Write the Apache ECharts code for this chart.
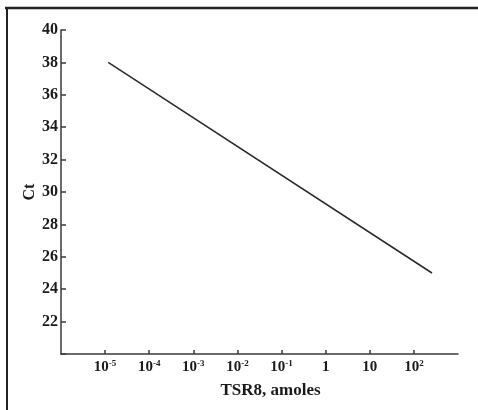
<!DOCTYPE html>
<html>
<head>
<meta charset="utf-8">
<script src="https://cdn.jsdelivr.net/npm/echarts@6/dist/echarts.min.js"></script>
<style>html,body{margin:0;padding:0;background:#fff;}#c{width:478px;height:410px;}</style>
</head>
<body>
<div id="c"></div>
<script>
// log10 of TSR8 amount (amoles)
const xLog = [-4.93, 2.41];
const ctValues = [38, 25];
const xTickExps = [-5, -4, -3, -2, -1, 0, 1, 2];
const xTickBase = ['10', '10', '10', '10', '10', '1', '10', '10'];
const xTickSup = ['-5', '-4', '-3', '-2', '-1', '', '', '2'];
const yTicks = [22, 24, 26, 28, 30, 32, 34, 36, 38, 40];

const chart = echarts.init(document.getElementById('c'));
const serif = '"Liberation Serif", "Times New Roman", serif';
const axisColor = '#3a3a3a';

chart.setOption({
  animation: false,
  backgroundColor: '#fff',
  grid: { left: 61, right: 20, top: 30, bottom: 56 },
  graphic: [
    { type: 'line', shape: { x1: 5, y1: 8, x2: 478, y2: 8 }, style: { stroke: '#222', lineWidth: 2.5 } },
    { type: 'line', shape: { x1: 7, y1: 7, x2: 7, y2: 410 }, style: { stroke: '#222', lineWidth: 2 } }
  ],
  xAxis: {
    type: 'value', min: -6, max: 3,
    name: 'TSR8, amoles', nameLocation: 'middle', nameGap: 28,
    nameTextStyle: { fontFamily: serif, fontWeight: 'bold', fontSize: 17, color: '#1a1a1a', padding: [0, 0, 0, 22] },
    axisLine: { onZero: false, lineStyle: { color: axisColor, width: 1.5 } },
    axisTick: { inside: true, length: 4, customValues: xTickExps, lineStyle: { color: axisColor, width: 1.5 } },
    splitLine: { show: false },
    axisLabel: {
      customValues: xTickExps, margin: 5,
      formatter: function (v) {
        const i = xTickExps.indexOf(Math.round(v));
        if (i < 0) return '';
        return xTickSup[i] ? '{b|' + xTickBase[i] + '}{s|' + xTickSup[i] + '}' : '{b|' + xTickBase[i] + '}';
      },
      rich: {
        b: { fontFamily: serif, fontWeight: 'bold', fontSize: 15, color: '#1a1a1a', lineHeight: 16, verticalAlign: 'bottom' },
        s: { fontFamily: serif, fontWeight: 'bold', fontSize: 9, color: '#1a1a1a', lineHeight: 16, verticalAlign: 'top', padding: [0, 0, 6, 0] }
      }
    }
  },
  yAxis: {
    type: 'value', min: 20, max: 40, interval: 2,
    name: 'Ct', nameLocation: 'middle', nameGap: 23, nameRotate: 90, nameMoveOverlap: false,
    nameTextStyle: { fontFamily: serif, fontWeight: 'bold', fontSize: 16, color: '#1a1a1a' },
    axisLine: { show: true, onZero: false, lineStyle: { color: axisColor, width: 1.5 } },
    axisTick: { show: true, inside: true, length: 5, lineStyle: { color: axisColor, width: 1.5 } },
    splitLine: { show: false },
    axisLabel: {
      margin: 3, fontFamily: serif, fontWeight: 'bold', fontSize: 16, color: '#1a1a1a',
      formatter: function (v) { return yTicks.indexOf(v) >= 0 ? String(v) : ''; }
    }
  },
  series: [{
    type: 'line',
    data: xLog.map((x, i) => [x, ctValues[i]]),
    symbol: 'none',
    lineStyle: { color: '#2a2a2a', width: 1.5 }
  }]
});
</script>
</body>
</html>
